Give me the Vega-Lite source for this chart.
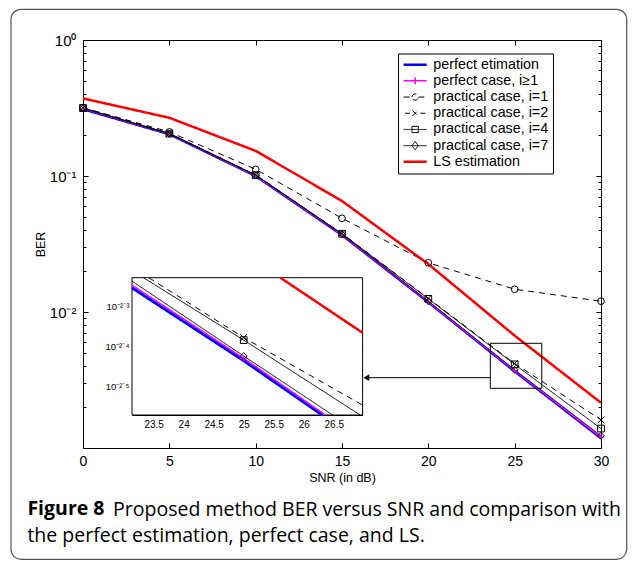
{
  "$schema": "https://vega.github.io/schema/vega-lite/v6.json",
  "width": 518,
  "height": 408,
  "padding": {"left": 10, "top": 8, "right": 0, "bottom": 0},
  "autosize": {"type": "pad"},
  "background": "white",
  "title": {
    "text": "Figure 8",
    "subtitle": "the perfect estimation, perfect case, and LS.",
    "orient": "bottom",
    "anchor": "start",
    "frame": "bounds",
    "offset": -60,
    "dx": 17,
    "font": "Open Sans",
    "fontSize": 19.5,
    "fontWeight": "bold",
    "color": "black",
    "subtitleFont": "Open Sans",
    "subtitleFontSize": 19.5,
    "subtitleFontWeight": "normal",
    "subtitleColor": "black",
    "subtitlePadding": 7.5
  },
  "datasets": {
    "main": [
      {"x": 0, "ber": 0.310, "s": "perfect etimation"},
      {"x": 5, "ber": 0.203, "s": "perfect etimation"},
      {"x": 10, "ber": 0.100, "s": "perfect etimation"},
      {"x": 15, "ber": 0.0368, "s": "perfect etimation"},
      {"x": 20, "ber": 0.0118, "s": "perfect etimation"},
      {"x": 25, "ber": 0.00366, "s": "perfect etimation"},
      {"x": 30, "ber": 0.00118, "s": "perfect etimation"},
      {"x": 0, "ber": 0.313, "s": "perfect case, i≥1"},
      {"x": 5, "ber": 0.204, "s": "perfect case, i≥1"},
      {"x": 10, "ber": 0.1005, "s": "perfect case, i≥1"},
      {"x": 15, "ber": 0.0371, "s": "perfect case, i≥1"},
      {"x": 20, "ber": 0.0119, "s": "perfect case, i≥1"},
      {"x": 25, "ber": 0.00371, "s": "perfect case, i≥1"},
      {"x": 30, "ber": 0.00120, "s": "perfect case, i≥1"},
      {"x": 0, "ber": 0.318, "s": "practical case, i=1"},
      {"x": 5, "ber": 0.211, "s": "practical case, i=1"},
      {"x": 10, "ber": 0.112, "s": "practical case, i=1"},
      {"x": 15, "ber": 0.0489, "s": "practical case, i=1"},
      {"x": 20, "ber": 0.0230, "s": "practical case, i=1"},
      {"x": 25, "ber": 0.0147, "s": "practical case, i=1"},
      {"x": 30, "ber": 0.0120, "s": "practical case, i=1"},
      {"x": 0, "ber": 0.316, "s": "practical case, i=2"},
      {"x": 5, "ber": 0.206, "s": "practical case, i=2"},
      {"x": 10, "ber": 0.102, "s": "practical case, i=2"},
      {"x": 15, "ber": 0.0378, "s": "practical case, i=2"},
      {"x": 20, "ber": 0.0126, "s": "practical case, i=2"},
      {"x": 25, "ber": 0.00418, "s": "practical case, i=2"},
      {"x": 30, "ber": 0.00161, "s": "practical case, i=2"},
      {"x": 0, "ber": 0.316, "s": "practical case, i=4"},
      {"x": 5, "ber": 0.205, "s": "practical case, i=4"},
      {"x": 10, "ber": 0.1015, "s": "practical case, i=4"},
      {"x": 15, "ber": 0.0376, "s": "practical case, i=4"},
      {"x": 20, "ber": 0.0125, "s": "practical case, i=4"},
      {"x": 25, "ber": 0.00412, "s": "practical case, i=4"},
      {"x": 30, "ber": 0.00139, "s": "practical case, i=4"},
      {"x": 0, "ber": 0.315, "s": "practical case, i=7"},
      {"x": 5, "ber": 0.204, "s": "practical case, i=7"},
      {"x": 10, "ber": 0.101, "s": "practical case, i=7"},
      {"x": 15, "ber": 0.0373, "s": "practical case, i=7"},
      {"x": 20, "ber": 0.0120, "s": "practical case, i=7"},
      {"x": 25, "ber": 0.00376, "s": "practical case, i=7"},
      {"x": 30, "ber": 0.00123, "s": "practical case, i=7"},
      {"x": 0, "ber": 0.372, "s": "LS estimation"},
      {"x": 5, "ber": 0.268, "s": "LS estimation"},
      {"x": 10, "ber": 0.153, "s": "LS estimation"},
      {"x": 15, "ber": 0.0655, "s": "LS estimation"},
      {"x": 20, "ber": 0.0225, "s": "LS estimation"},
      {"x": 25, "ber": 0.0067, "s": "LS estimation"},
      {"x": 30, "ber": 0.00215, "s": "LS estimation"}
    ],
    "inset": [
      {"x": 23.14, "ber": 0.00557, "s": "perfect etimation"},
      {"x": 25, "ber": 0.00366, "s": "perfect etimation"},
      {"x": 26.31, "ber": 0.002676, "s": "perfect etimation"},
      {"x": 23.14, "ber": 0.005655, "s": "perfect case, i≥1"},
      {"x": 25, "ber": 0.00371, "s": "perfect case, i≥1"},
      {"x": 26.36, "ber": 0.002676, "s": "perfect case, i≥1"},
      {"x": 23.42, "ber": 0.005902, "s": "practical case, i=2"},
      {"x": 25, "ber": 0.00418, "s": "practical case, i=2"},
      {"x": 26.98, "ber": 0.002833, "s": "practical case, i=2"},
      {"x": 23.33, "ber": 0.005902, "s": "practical case, i=4"},
      {"x": 25, "ber": 0.00412, "s": "practical case, i=4"},
      {"x": 26.94, "ber": 0.002676, "s": "practical case, i=4"},
      {"x": 23.14, "ber": 0.005787, "s": "practical case, i=7"},
      {"x": 25, "ber": 0.00376, "s": "practical case, i=7"},
      {"x": 26.48, "ber": 0.002676, "s": "practical case, i=7"},
      {"x": 25.61, "ber": 0.005902, "s": "LS estimation"},
      {"x": 26.98, "ber": 0.004297, "s": "LS estimation"}
    ]
  },
  "resolve": {
    "scale": {"x": "independent", "y": "independent"},
    "axis": {"x": "independent", "y": "independent"}
  },
  "layer": [
    {
      "data": {"name": "main"},
      "layer": [
        {
          "transform": [{"filter": "datum.s == 'perfect etimation'"}],
          "mark": {"type": "line", "strokeWidth": 2.5},
          "encoding": {
            "x": {
              "field": "x", "type": "quantitative",
              "scale": {"domain": [0, 30], "nice": false, "zero": false},
              "axis": {
                "orient": "bottom", "values": [0, 5, 10, 15, 20, 25, 30],
                "title": "SNR (in dB)", "titleFontSize": 12.5, "titlePadding": 3,
                "labelFontSize": 14, "labelPadding": 11, "tickSize": -5,
                "labelFlush": false, "labelOverlap": false, "domain": false
              }
            },
            "y": {
              "field": "ber", "type": "quantitative",
              "scale": {"type": "log", "domain": [0.001, 1], "nice": false},
              "axis": {
                "orient": "left",
                "values": [1, 0.9, 0.8, 0.7, 0.6, 0.5, 0.4, 0.3, 0.2, 0.1, 0.09, 0.08, 0.07, 0.06, 0.05, 0.04, 0.03, 0.02, 0.01, 0.009, 0.008, 0.007, 0.006, 0.005, 0.004, 0.003, 0.002, 0.001],
                "labelExpr": "datum.value == 1 ? '10⁰' : datum.value == 0.1 ? '10⁻¹' : datum.value == 0.01 ? '10⁻²' : ''",
                "tickSize": {"condition": {"test": "datum.value == 1 || datum.value == 0.1 || datum.value == 0.01 || datum.value == 0.001", "value": -5}, "value": -3},
                "title": "BER", "titleFontSize": 12.5, "titlePadding": 2,
                "labelFontSize": 15, "labelPadding": 12,
                "labelFlush": false, "labelOverlap": false, "domain": false
              }
            },
            "color": {
              "field": "s", "type": "nominal",
              "scale": {"domain": ["perfect etimation", "perfect case, i≥1", "practical case, i=1", "practical case, i=2", "practical case, i=4", "practical case, i=7", "LS estimation"],
                        "range": ["#0000ff", "#ff00ff", "#000000", "#000000", "#000000", "#000000", "#ff0000"]},
              "legend": {
                "orient": "none", "legendX": 315, "legendY": 13.5, "title": null,
                "fillColor": "white", "strokeColor": "black", "padding": 4,
                "labelFont": "Liberation Sans", "labelFontSize": 14.3, "labelColor": "black",
                "symbolSize": 196, "rowPadding": 1.2, "symbolOffset": 6, "labelOffset": 11,
                "encode": {
                  "symbols": {
                    "update": {
                      "shape": {"signal": "datum.value == 'practical case, i=1' ? 'M-1.65,0H-0.45M0.45,0H1.65M-0.45,0A0.45,0.45 0 1,1 0.45,0A0.45,0.45 0 1,1 -0.45,0' : datum.value == 'practical case, i=2' ? 'M-1.45,0H-0.75M0.75,0H1.45M-0.4,-0.4L0.4,0.4M-0.4,0.4L0.4,-0.4' : datum.value == 'practical case, i=4' ? 'M-1.65,0H1.65M-0.45,-0.45H0.45V0.45H-0.45Z' : datum.value == 'practical case, i=7' ? 'M-1.65,0H1.65M0,-0.6L0.45,0L0,0.6L-0.45,0Z' : datum.value == 'perfect case, i≥1' ? 'M-1.65,0H1.65M-0.5,0H0.5M0,-0.5V0.5' : 'M-1.65,0H1.65'"},
                      "strokeWidth": {"signal": "datum.value == 'perfect etimation' || datum.value == 'LS estimation' ? 2.5 : datum.value == 'perfect case, i≥1' ? 1.5 : 1"},
                      "fill": {"value": "transparent"},
                      "strokeDash": {"value": [1, 0]}
                    }
                  }
                }
              }
            },
            "strokeDash": {
              "field": "s", "type": "nominal",
              "scale": {"domain": ["perfect etimation", "perfect case, i≥1", "practical case, i=1", "practical case, i=2", "practical case, i=4", "practical case, i=7", "LS estimation"],
                        "range": [[1, 0], [1, 0], [6, 5], [6, 5], [1, 0], [1, 0], [1, 0]]},
              "legend": null
            }
          }
        },
        {
          "transform": [{"filter": "datum.s == 'perfect case, i≥1'"}],
          "mark": {"type": "line", "strokeWidth": 1.5},
          "encoding": {
            "x": {"field": "x", "type": "quantitative"},
            "y": {"field": "ber", "type": "quantitative"},
            "color": {"field": "s", "type": "nominal"},
            "strokeDash": {"field": "s", "type": "nominal", "legend": null}
          }
        },
        {
          "transform": [{"filter": "indexof(datum.s, 'practical') == 0"}],
          "mark": {"type": "line", "strokeWidth": 1},
          "encoding": {
            "x": {"field": "x", "type": "quantitative"},
            "y": {"field": "ber", "type": "quantitative"},
            "color": {"field": "s", "type": "nominal"},
            "strokeDash": {"field": "s", "type": "nominal", "legend": null}
          }
        },
        {
          "transform": [{"filter": "datum.s == 'LS estimation'"}],
          "mark": {"type": "line", "strokeWidth": 2.5},
          "encoding": {
            "x": {"field": "x", "type": "quantitative"},
            "y": {"field": "ber", "type": "quantitative"},
            "color": {"field": "s", "type": "nominal"},
            "strokeDash": {"field": "s", "type": "nominal", "legend": null}
          }
        },
        {
          "transform": [{"filter": "datum.s != 'perfect etimation' && datum.s != 'LS estimation'"}],
          "mark": {"type": "point", "filled": false, "strokeWidth": 1, "size": 45, "opacity": 1},
          "encoding": {
            "x": {"field": "x", "type": "quantitative"},
            "y": {"field": "ber", "type": "quantitative"},
            "color": {"field": "s", "type": "nominal"},
            "shape": {
              "field": "s", "type": "nominal",
              "scale": {"domain": ["perfect case, i≥1", "practical case, i=1", "practical case, i=2", "practical case, i=4", "practical case, i=7"],
                        "range": ["M-1,0H1M0,-1V1", "circle", "M-1,-1L1,1M-1,1L1,-1", "square", "diamond"]},
              "legend": null
            }
          }
        },
        {
          "data": {"values": [{"note": "zoom box"}]},
          "mark": {"type": "rect", "fill": "transparent", "stroke": "black", "strokeWidth": 1},
          "encoding": {
            "x": {"datum": 23.59, "type": "quantitative"}, "x2": {"datum": 26.57},
            "y": {"datum": 0.002748, "type": "quantitative"}, "y2": {"datum": 0.005888}
          }
        },
        {
          "data": {"values": [{"note": "arrow"}]},
          "mark": {"type": "rule", "stroke": "black", "strokeWidth": 1},
          "encoding": {
            "x": {"datum": 16.3, "type": "quantitative"}, "x2": {"datum": 23.59},
            "y": {"datum": 0.003289, "type": "quantitative"}
          }
        },
        {
          "data": {"values": [{"note": "arrow head"}]},
          "mark": {"type": "point", "shape": "triangle-left", "filled": true, "color": "black", "size": 45, "opacity": 1},
          "encoding": {
            "x": {"datum": 16.41, "type": "quantitative"},
            "y": {"datum": 0.003289, "type": "quantitative"}
          }
        }
      ]
    },
    {
      "data": {"values": [{"note": "frame"}]},
      "mark": {"type": "rect", "fill": "transparent", "stroke": "#555555", "strokeWidth": 1.2, "cornerRadius": 10, "clip": false},
      "encoding": {
        "x": {
          "datum": -4.17, "type": "quantitative",
          "scale": {"domain": [0, 30], "nice": false, "zero": false},
          "axis": {"orient": "top", "values": [0, 5, 10, 15, 20, 25, 30], "labels": false, "title": null, "tickSize": -5, "domain": false}
        },
        "x2": {"datum": 31.49},
        "y": {
          "datum": 0.0001519, "type": "quantitative",
          "scale": {"type": "log", "domain": [0.001, 1], "nice": false},
          "axis": {
            "orient": "right", "labels": false, "title": null, "domain": false,
            "values": [1, 0.9, 0.8, 0.7, 0.6, 0.5, 0.4, 0.3, 0.2, 0.1, 0.09, 0.08, 0.07, 0.06, 0.05, 0.04, 0.03, 0.02, 0.01, 0.009, 0.008, 0.007, 0.006, 0.005, 0.004, 0.003, 0.002, 0.001],
            "tickSize": {"condition": {"test": "datum.value == 1 || datum.value == 0.1 || datum.value == 0.01 || datum.value == 0.001", "value": -5}, "value": -3}
          }
        },
        "y2": {"datum": 1.682}
      }
    },
    {
      "data": {"name": "inset"},
      "resolve": {"axis": {"x": "independent", "y": "independent"}},
      "layer": [
        {
          "data": {"values": [{"note": "inset box"}]},
          "mark": {"type": "rect", "fill": "white", "stroke": "black", "strokeWidth": 1},
          "encoding": {
            "x": {
              "datum": 23.14, "type": "quantitative",
              "scale": {"domain": [23.14, 26.98], "range": [49, 279.6], "nice": false, "zero": false},
              "axis": {
                "orient": "bottom", "offset": -33, "values": [23.5, 24, 24.5, 25, 25.5, 26, 26.5],
                "format": "~g",
                "labelFontSize": 10, "labelPadding": 7, "tickSize": -3, "domain": true,
                "labelFlush": false, "labelOverlap": false,
                "title": "Proposed method BER versus SNR and comparison with",
                "titleX": 29.6, "titleY": 100.4, "titleAlign": "left", "titleBaseline": "alphabetic",
                "titleFont": "Open Sans", "titleFontSize": 19.5, "titleFontWeight": "normal", "titleColor": "black"
              }
            },
            "x2": {"datum": 26.98},
            "y": {
              "datum": 0.002676, "type": "quantitative",
              "scale": {"type": "log", "domain": [0.002676, 0.005902], "range": [375, 237.7], "nice": false},
              "axis": {
                "orient": "left", "offset": -49, "values": [0.0050119, 0.0039811, 0.0031623],
                "labelExpr": "datum.value < 0.0035 ? '10⁻²˙⁵' : datum.value < 0.0045 ? '10⁻²˙⁴' : '10⁻²˙³'",
                "labelFontSize": 9.5, "labelPadding": 6, "tickSize": -3, "domain": true, "title": null,
                "labelFlush": false, "labelOverlap": false
              }
            },
            "y2": {"datum": 0.005902}
          }
        },
        {
          "transform": [{"filter": "datum.s == 'perfect etimation'"}],
          "mark": {"type": "line", "strokeWidth": 3},
          "encoding": {
            "x": {"field": "x", "type": "quantitative",
                  "axis": {"orient": "top", "offset": -237.7, "values": [23.5, 24, 24.5, 25, 25.5, 26, 26.5], "labels": false, "title": null, "tickSize": -3, "domain": false}},
            "y": {"field": "ber", "type": "quantitative",
                  "axis": {"orient": "right", "offset": -238.4, "values": [0.0050119, 0.0039811, 0.0031623], "labels": false, "title": null, "tickSize": -3, "domain": false}},
            "color": {"field": "s", "type": "nominal"},
            "strokeDash": {"field": "s", "type": "nominal", "legend": null}
          }
        },
        {
          "transform": [{"filter": "datum.s == 'perfect case, i≥1'"}],
          "mark": {"type": "line", "strokeWidth": 1.5},
          "encoding": {
            "x": {"field": "x", "type": "quantitative", "axis": null},
            "y": {"field": "ber", "type": "quantitative", "axis": null},
            "color": {"field": "s", "type": "nominal"},
            "strokeDash": {"field": "s", "type": "nominal", "legend": null}
          }
        },
        {
          "transform": [{"filter": "indexof(datum.s, 'practical') == 0"}],
          "mark": {"type": "line", "strokeWidth": 1},
          "encoding": {
            "x": {"field": "x", "type": "quantitative", "axis": null},
            "y": {"field": "ber", "type": "quantitative", "axis": null},
            "color": {"field": "s", "type": "nominal"},
            "strokeDash": {"field": "s", "type": "nominal", "legend": null}
          }
        },
        {
          "transform": [{"filter": "datum.s == 'LS estimation'"}],
          "mark": {"type": "line", "strokeWidth": 2.5},
          "encoding": {
            "x": {"field": "x", "type": "quantitative", "axis": null},
            "y": {"field": "ber", "type": "quantitative", "axis": null},
            "color": {"field": "s", "type": "nominal"},
            "strokeDash": {"field": "s", "type": "nominal", "legend": null}
          }
        },
        {
          "transform": [{"filter": "datum.x == 25 && datum.s != 'perfect etimation' && datum.s != 'LS estimation'"}],
          "mark": {"type": "point", "filled": false, "strokeWidth": 1, "size": 45, "opacity": 1},
          "encoding": {
            "x": {"field": "x", "type": "quantitative", "axis": null},
            "y": {"field": "ber", "type": "quantitative", "axis": null},
            "color": {"field": "s", "type": "nominal"},
            "shape": {"field": "s", "type": "nominal", "legend": null}
          }
        }
      ]
    }
  ],
  "config": {
    "font": "Liberation Sans",
    "view": {"stroke": "black", "strokeWidth": 1},
    "axis": {
      "grid": false, "domainColor": "black", "tickColor": "black", "labelColor": "black",
      "titleColor": "black", "labelFont": "Liberation Sans", "titleFont": "Liberation Sans",
      "titleFontWeight": "normal", "labelBound": false
    }
  }
}
